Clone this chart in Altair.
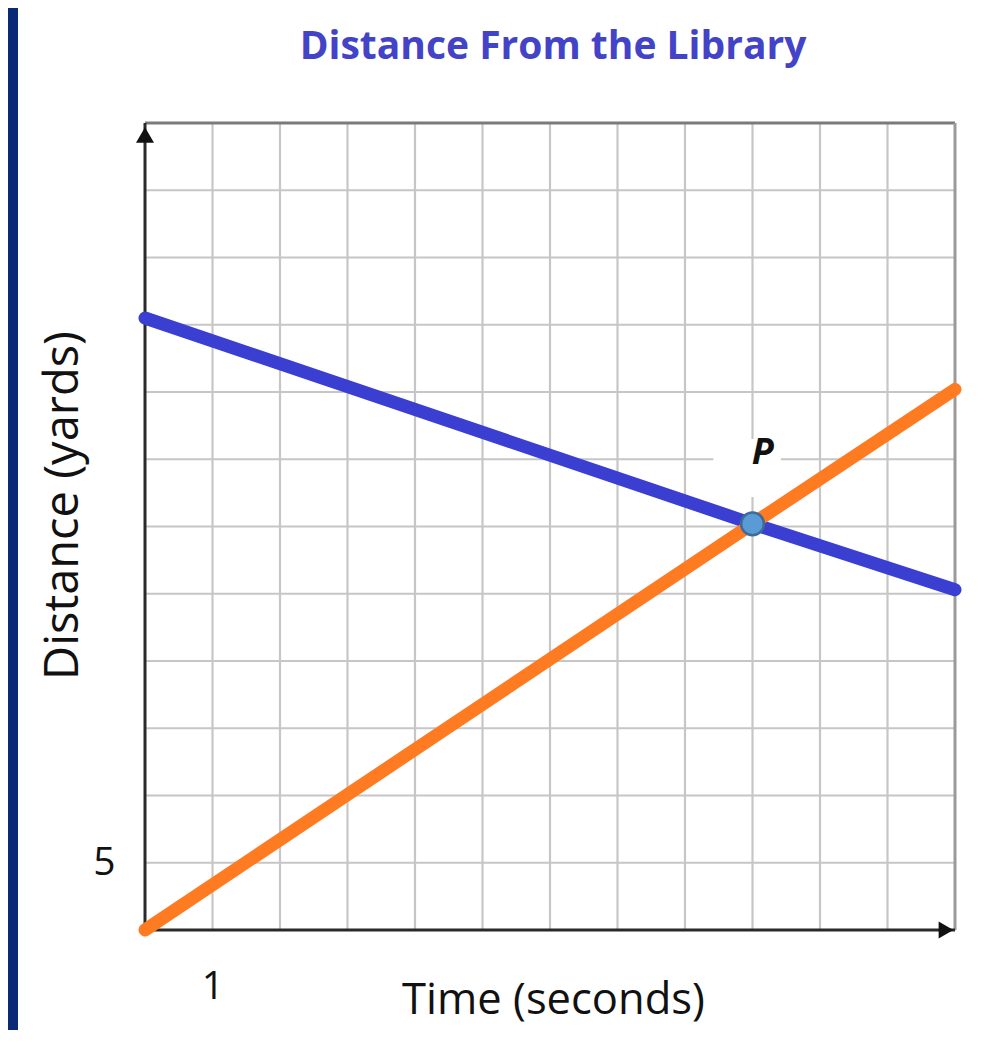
import altair as alt
import pandas as pd

# ---- data ----
time_s = [0, 9, 12]
blue_yards = [45.5, 30.2, 25.3]
orange_yards = [0, 30.2, 40.2]
p_time = [9]
p_yards = [30.2]
p_label = ["P"]
p_label_time = [9.15]
p_label_yards = [35.5]
p_box_time = [8.42]
p_box_time2 = [9.42]
p_box_yards = [32.2]
p_box_yards2 = [36.5]
grid_x = [1, 2, 3, 4, 5, 6, 7, 8, 9, 10, 11]
grid_y = [5, 10, 15, 20, 25, 30, 35, 40, 45, 50, 55]
x_tick_values = [1]
y_tick_values = [5]
x_max = [12]
y_max = [60]
chart_title = ["Distance From the Library"]

FONT = "Open Sans"

xs = alt.Scale(domain=[0, 12], nice=False, zero=False)
ys = alt.Scale(domain=[0, 60], nice=False, zero=False)

x_axis = alt.Axis(
    values=x_tick_values, grid=False, domain=False, ticks=False, tickSize=0,
    labelFont=FONT, labelFontSize=39, labelColor="#111111", labelPadding=37,
    labelBaseline="top",
    title="Time (seconds)", titleFont=FONT, titleFontSize=43.5, titleFontWeight="normal",
    titleColor="#111111", titleBaseline="middle", titleY=70, titleX=408,
)
y_axis = alt.Axis(
    values=y_tick_values, grid=False, domain=False, ticks=False, tickSize=0,
    labelFont=FONT, labelFontSize=39, labelColor="#111111", labelPadding=30,
    title="Distance (yards)", titleFont=FONT, titleFontSize=47, titleFontWeight="normal",
    titleColor="#111111", titleBaseline="middle", titleX=-82, titleY=382,
)


def X(field="t"):
    return alt.X(f"{field}:Q", scale=xs, axis=x_axis)


def Y(field="d"):
    return alt.Y(f"{field}:Q", scale=ys, axis=y_axis)


lines_df = pd.DataFrame({
    "t": time_s * 2,
    "d": blue_yards + orange_yards,
    "series": ["blue"] * len(time_s) + ["orange"] * len(time_s),
})
vgrid = pd.DataFrame({"t": grid_x})
hgrid = pd.DataFrame({"d": grid_y})
top_df = pd.DataFrame({"d": y_max})
right_df = pd.DataFrame({"t": x_max})
left_df = pd.DataFrame({"t": [0]})
bottom_df = pd.DataFrame({"d": [0]})
up_arrow = pd.DataFrame({"t": [0], "d": y_max})
right_arrow = pd.DataFrame({"t": x_max, "d": [0]})
p_df = pd.DataFrame({"t": p_time, "d": p_yards})
p_lab = pd.DataFrame({"t": p_label_time, "d": p_label_yards, "label": p_label})
p_box = pd.DataFrame({"t": p_box_time, "t2": p_box_time2, "d": p_box_yards, "d2": p_box_yards2})
title_df = pd.DataFrame({"title": chart_title})

strip = alt.Chart(pd.DataFrame({"a": [0]})).mark_rect(color="#0a2a78").encode(
    x=alt.value(-137), x2=alt.value(-127), y=alt.value(-120), y2=alt.value(930)
)

title = alt.Chart(title_df).mark_text(
    font=FONT, fontSize=39, fontWeight="bold", color="#4343c8",
    align="center", baseline="alphabetic"
).encode(x=alt.value(408), y=alt.value(-64), text="title:N")

vg = alt.Chart(vgrid).mark_rule(color="#c6c6c6", strokeWidth=2.2).encode(x=X())
hg = alt.Chart(hgrid).mark_rule(color="#c6c6c6", strokeWidth=2.2).encode(y=Y())
top = alt.Chart(top_df).mark_rule(color="#7a7a7a", strokeWidth=3).encode(y=Y())
right = alt.Chart(right_df).mark_rule(color="#9a9a9a", strokeWidth=3).encode(x=X())
left = alt.Chart(left_df).mark_rule(color="#2a2a2a", strokeWidth=3).encode(x=X())
bottom = alt.Chart(bottom_df).mark_rule(color="#2a2a2a", strokeWidth=3).encode(y=Y())

box = alt.Chart(p_box).mark_rect(color="white").encode(
    x=X(), x2="t2:Q", y=Y(), y2="d2:Q"
)

up = alt.Chart(up_arrow).mark_point(
    shape="triangle-up", filled=True, size=324, color="#111111", opacity=1, yOffset=12
).encode(x=X(), y=Y())
rt = alt.Chart(right_arrow).mark_point(
    shape="triangle-right", filled=True, size=289, color="#111111", opacity=1, xOffset=-9
).encode(x=X(), y=Y())

lines = alt.Chart(lines_df).mark_line(strokeWidth=13, strokeCap="round", strokeJoin="round").encode(
    x=X(), y=Y(),
    color=alt.Color("series:N", scale=alt.Scale(domain=["blue", "orange"], range=["#3a3fd2", "#ff7b22"]), legend=None),
    detail="series:N",
)

point = alt.Chart(p_df).mark_point(
    shape="circle", filled=True, size=520, fill="#5b9bd5", stroke="#3d6b9a", strokeWidth=2.5, opacity=1
).encode(x=X(), y=Y())

plab = alt.Chart(p_lab).mark_text(
    font=FONT, fontSize=36, fontWeight="bold", fontStyle="italic", color="#111111",
    baseline="middle", align="center"
).encode(x=X(), y=Y(), text="label:N")

chart = alt.layer(
    strip, title, vg, hg, top, right, left, bottom, box, up, rt, lines, point, plab
).properties(
    width=810, height=807,
    padding={"left": 137, "top": 115, "right": 30, "bottom": 100},
    autosize=alt.AutoSizeParams(type="none"),
).configure_view(stroke=None).configure(background="white")

chart.save("out.html", embed_options={"renderer": "svg", "actions": False})
